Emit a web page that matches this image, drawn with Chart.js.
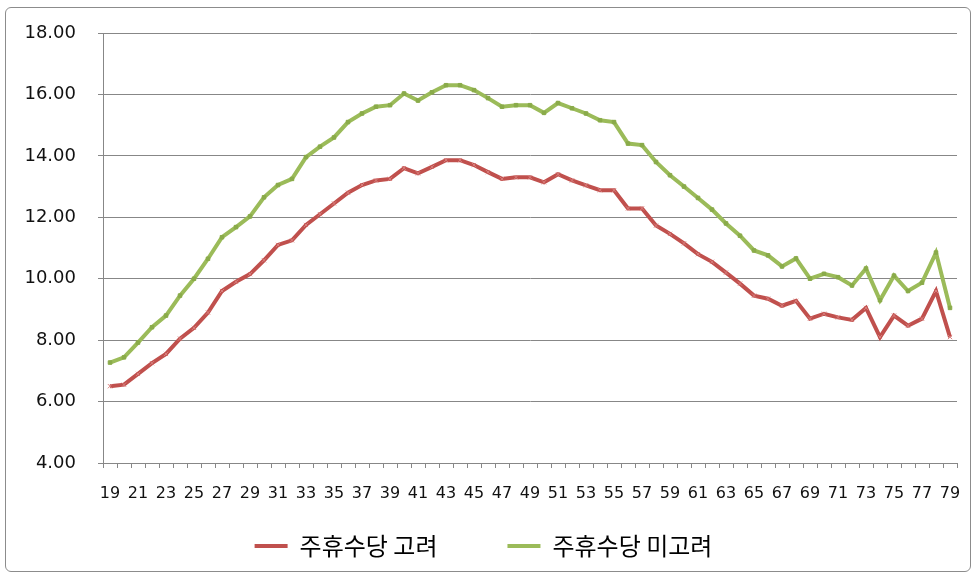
<!DOCTYPE html>
<html>
<head>
<meta charset="utf-8">
<script src="https://cdn.jsdelivr.net/npm/chart.js@4/dist/chart.umd.min.js"></script>
<style>
  html, body { margin: 0; padding: 0; background: #ffffff; }
  #wrap { position: relative; width: 978px; height: 575px; }
  #frame { position: absolute; left: 5px; top: 7px; right: 7px; bottom: 3px; border: 1px solid #8c8c8c; border-radius: 6px; pointer-events: none; }
  canvas { position: absolute; left: 0; top: 0; }
</style>
</head>
<body>
<div id="wrap">
  <canvas id="c" width="978" height="575"></canvas>
  <div id="frame"></div>
</div>
<script>
const ages = [19,20,21,22,23,24,25,26,27,28,29,30,31,32,33,34,35,36,37,38,39,40,41,42,43,44,45,46,47,48,49,
  50,51,52,53,54,55,56,57,58,59,60,61,62,63,64,65,66,67,68,69,70,71,72,73,74,75,76,77,78,79];

const withHoliday = [6.50,6.55,6.90,7.25,7.55,8.05,8.40,8.90,9.60,9.90,10.15,10.60,11.10,11.25,11.75,12.10,12.45,12.80,13.05,13.20,13.25,
  13.60,13.43,13.64,13.86,13.86,13.70,13.47,13.25,13.30,13.30,13.14,13.40,13.20,13.04,12.88,12.88,12.29,12.29,11.73,11.46,
  11.15,10.80,10.55,10.20,9.84,9.45,9.35,9.12,9.28,8.70,8.86,8.74,8.66,9.05,8.10,8.80,8.47,8.70,9.60,8.10];

const withoutHoliday = [7.27,7.44,7.92,8.42,8.80,9.45,10.00,10.65,11.35,11.68,12.03,12.65,13.05,13.25,13.96,14.30,14.60,15.10,15.38,15.60,15.65,
  16.03,15.80,16.07,16.30,16.30,16.14,15.88,15.60,15.65,15.65,15.40,15.72,15.55,15.38,15.16,15.10,14.40,14.35,13.80,13.37,
  13.00,12.63,12.25,11.80,11.40,10.92,10.76,10.40,10.66,10.00,10.16,10.05,9.78,10.33,9.30,10.10,9.60,9.87,10.85,9.05];

const seriesNames = ['주휴수당 고려', '주휴수당 미고려'];
const yMin = 4, yMax = 18, yStep = 2;

const RED = '#c0504d';
const GREEN = '#9bbb59';
const GRID = '#878787';

new Chart(document.getElementById('c'), {
  type: 'line',
  data: {
    labels: ages,
    datasets: [
      {
        label: seriesNames[0],
        data: withHoliday,
        borderColor: RED,
        backgroundColor: RED,
        borderWidth: 4,
        tension: 0,
        pointStyle: 'crossRot',
        pointRadius: 3,
        pointBorderWidth: 1,
        pointBorderColor: '#d9807e',
        pointHoverRadius: 3
      },
      {
        label: seriesNames[1],
        data: withoutHoliday,
        borderColor: GREEN,
        backgroundColor: GREEN,
        borderWidth: 4,
        tension: 0,
        pointStyle: 'rect',
        pointRadius: 2.5,
        pointBorderWidth: 1,
        pointBorderColor: '#8aab4a',
        pointBackgroundColor: '#8aab4a',
        pointHoverRadius: 2.5
      }
    ]
  },
  options: {
    responsive: false,
    animation: false,
    devicePixelRatio: 1,
    layout: { padding: { left: 10, right: 21, top: 33, bottom: 7 } },
    plugins: {
      tooltip: { enabled: false },
      legend: {
        position: 'bottom',
        align: 'center',
        labels: {
          font: { family: '"Noto Sans CJK KR", sans-serif', size: 24 },
          color: '#222222',
          boxWidth: 33,
          boxHeight: 4,
          padding: 70,
          generateLabels(chart) {
            return chart.data.datasets.map((ds, i) => ({
              text: ds.label,
              fillStyle: ds.borderColor,
              strokeStyle: ds.borderColor,
              lineWidth: 0,
              hidden: false,
              datasetIndex: i
            }));
          }
        }
      }
    },
    scales: {
      x: {
        type: 'category',
        offset: true,
        afterFit(scale) { scale.height = 1; },
        grid: {
          offset: true,
          drawOnChartArea: false,
          drawTicks: true,
          tickLength: 5,
          color: GRID
        },
        border: { color: GRID, width: 1 },
        ticks: {
          autoSkip: false,
          maxRotation: 0,
          minRotation: 0,
          mirror: true,
          padding: -40,
          color: '#111111',
          font: { family: '"DejaVu Sans", sans-serif', size: 16 },
          callback(value, index) { return index % 2 === 0 ? String(ages[index]) : ''; }
        }
      },
      y: {
        min: yMin,
        max: yMax,
        afterFit(scale) { scale.width = 93; },
        grid: {
          color: GRID,
          lineWidth: 1,
          drawTicks: true,
          tickLength: 5
        },
        border: { color: GRID, width: 1 },
        ticks: {
          stepSize: yStep,
          padding: 22,
          color: '#111111',
          font: { family: '"DejaVu Sans", sans-serif', size: 18 },
          callback(value) { return Number(value).toFixed(2); }
        }
      }
    }
  }
});
</script>
</body>
</html>
